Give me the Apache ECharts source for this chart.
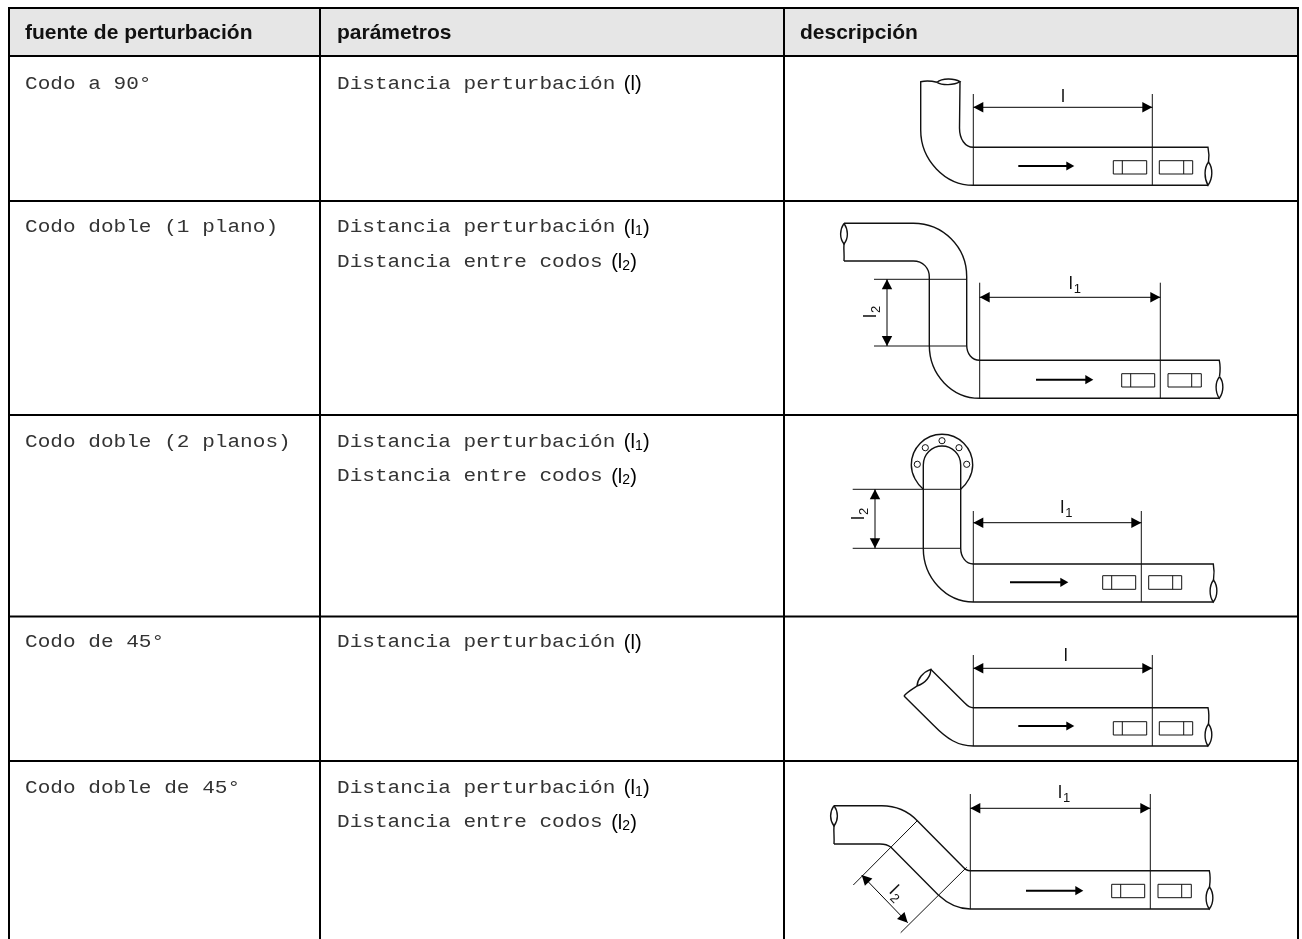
<!DOCTYPE html>
<html>
<head>
<meta charset="utf-8">
<style>
  html, body { margin: 0; padding: 0; background: #fff; }
  #main { width: 1302px; height: 939px; }
</style>
<script src="https://cdn.jsdelivr.net/npm/echarts@6/dist/echarts.min.js"></script>
</head>
<body>
<div id="main"></div>
<script>
// table text
const headerLabels = ['fuente de perturbación', 'parámetros', 'descripción']
const sourceLabels = ['Codo a 90°', 'Codo doble (1 plano)', 'Codo doble (2 planos)', 'Codo de 45°', 'Codo doble de 45°']
const paramLabels = [
  ['Distancia perturbación', 'l', ''],
  ['Distancia perturbación', 'l', '1'],
  ['Distancia entre codos', 'l', '2'],
  ['Distancia perturbación', 'l', '1'],
  ['Distancia entre codos', 'l', '2'],
  ['Distancia perturbación', 'l', ''],
  ['Distancia perturbación', 'l', '1'],
  ['Distancia entre codos', 'l', '2']
]
const sourceBaselines = [89.5, 233, 447.5, 648, 793.5]
const paramBaselines = [89.5, 233, 267.5, 447.5, 482, 648, 793.5, 828]
const headerX = [25, 337, 800]

// table rules, in picture units
const columnRules = [9, 320, 784, 1298]
const rowRules = [8, 56, 201, 415, 616.5, 761]

// pipe outlines of the five sketches
const pipeStrokes = [
  // codo a 90
  'M 920.7 130 L 920.7 81.7 C 926 80.5 932 81 937 82.3',
  'M 937 82.3 C 942 78 954 78 960 81.7 C 954 85.5 942 85.5 937 82.3',
  'M 960 81.7 L 959.5 128 C 959.5 139 965 147.3 973.3 147.3 L 1208 147.3 C 1209 152 1209 158 1208.5 162',
  'M 1208.5 162 C 1204 168 1204 178 1208 185.3 C 1213 178 1213 168 1208.5 162',
  'M 920.7 130 C 920.7 160 945 185.3 973.3 185.3 L 1208 185.3',
  // codo doble, 1 plano
  'M 844 223.3 L 913.3 223.3 C 943 223.3 966.7 247 966.7 276.7 L 966.7 345 C 966.7 354 972 360.3 979.7 360.3 L 1219.3 360.3 C 1220.3 365 1220.3 371 1219.5 376.7',
  'M 1219.5 376.7 C 1215 382 1215 392 1219.3 398.3 C 1224 392 1224 382 1219.5 376.7',
  'M 844 261 L 913.3 261 C 923 261 929.3 268 929.3 277 L 929.3 345 C 929.3 375 952 398.3 979.7 398.3 L 1219.3 398.3',
  'M 844 223.3 C 839.5 230 839.5 238 844 244 C 848.5 238 848.5 230 844 223.3',
  'M 844 244 C 843.5 250 844.5 255 844 261',
  // codo doble, 2 planos
  'M 923.3 489.3 C 917 484 911.3 474.5 911.3 465 C 911.3 448 925 434.3 942 434.3 C 959 434.3 972.7 448 972.7 465 C 972.7 474.5 967 484 960.7 489.3',
  'M 923.3 548.3 L 923.3 465 C 923.3 454.5 931.7 446 942 446 C 952.3 446 960.7 454.5 960.7 465 L 960.7 548.3 C 960.7 557 966 564 973.3 564 L 1213.3 564 C 1214.3 569 1214.3 574 1213.5 580',
  'M 1213.5 580 C 1209 586 1209 596 1213.3 602 C 1218 596 1218 586 1213.5 580',
  'M 923.3 548.3 C 923.3 578 946 602 973.3 602 L 1213.3 602',
  // codo de 45
  'M 930.7 669.3 L 965 703.3 C 967.5 706 970 707.7 973.3 707.7 L 1208 707.7 C 1209 712 1209 718 1208.5 724',
  'M 1208.5 724 C 1204 730 1204 740 1208 746 C 1213 740 1213 730 1208.5 724',
  'M 904 696 L 933.3 725 C 947 739 958 746 973.3 746 L 1208 746',
  'M 904 696 C 908 691 913 689 917 686',
  'M 917 686 C 917.5 679 923 672 930.7 669.3 C 931 676 926 683 917 686',
  // codo doble de 45
  'M 834 805.7 L 881.7 805.7 C 896 805.7 908 811 917.3 820.7 L 963.3 867.3 C 965 869.5 967.5 870.7 970.3 870.7 L 1209.3 870.7 C 1210.3 875 1210.3 881 1209.5 887',
  'M 1209.5 887 C 1205 893 1205 903 1209.3 909 C 1214 903 1214 893 1209.5 887',
  'M 834 844 L 880 844 C 885 844 888 845 891 847.3 L 938.3 895 C 948 904 958 909 970.3 909 L 1209.3 909',
  'M 834 805.7 C 829.5 812 829.5 820 834 826 C 838.5 820 838.5 812 834 805.7',
  'M 834 826 C 833.5 832 834.5 838 834 844'
]

// witness lines and section lines
const thinStrokes = [
  'M 973.3 94 L 973.3 185.3', 'M 1152.3 94 L 1152.3 185.3',
  'M 979.7 282.7 L 979.7 398.3', 'M 1160.3 282.7 L 1160.3 398.3',
  'M 874 279.3 L 966.7 279.3', 'M 874 346 L 966.7 346',
  'M 973.3 511 L 973.3 602', 'M 1141.3 511 L 1141.3 602',
  'M 852.7 489.3 L 960.7 489.3', 'M 852.7 548.3 L 960.7 548.3',
  'M 973.3 655 L 973.3 746', 'M 1152.3 655 L 1152.3 746',
  'M 970.3 794 L 970.3 909', 'M 1150.3 794 L 1150.3 909',
  'M 853.3 885 L 917.3 820.7', 'M 900.7 932.7 L 966.7 867.3'
]

// x1, y1, x2, y2
const dimArrows = [
  [973.3, 107.3, 1152.3, 107.3],
  [979.7, 297.3, 1160.3, 297.3],
  [887, 279.3, 887, 346],
  [973.3, 522.7, 1141.3, 522.7],
  [875, 489.3, 875, 548.3],
  [973.3, 668.3, 1152.3, 668.3],
  [970.3, 808.3, 1150.3, 808.3],
  [861.7, 875, 907.7, 922.7]
]
const flowArrows = [
  [1018.3, 166, 1074.3, 166],
  [1036, 379.7, 1093.3, 379.7],
  [1010, 582.3, 1068.3, 582.3],
  [1018.3, 726, 1074.3, 726],
  [1026, 890.7, 1083.3, 890.7]
]

// x1, y1, x2, y2, inner line x
const sensorBoxes = [
  [1113.3, 160.7, 1146.7, 174, 1122.3], [1159.3, 160.7, 1192.7, 174, 1183.7],
  [1121.7, 373.7, 1154.7, 387, 1130.7], [1168, 373.7, 1201.3, 387, 1191.7],
  [1102.7, 575.7, 1135.7, 589.3, 1111.7], [1148.7, 575.7, 1181.7, 589.3, 1172.7],
  [1113.3, 721.7, 1146.7, 735, 1122.3], [1159.3, 721.7, 1192.7, 735, 1183.7],
  [1111.7, 884.3, 1144.7, 897.7, 1120.7], [1158, 884.3, 1191.3, 897.7, 1181.7]
]

const flangeHoles = [[917.3, 464.3], [925.3, 447.7], [942, 440.7], [959, 447.7], [966.7, 464.3]]

// dimension names and where they sit: x, y, rotation in degrees
const dimLabelSubs = ['', '1', '2', '1', '2', '', '1', '2']
const dimLabelAnchors = [
  [1061, 102, 0], [1068.7, 289.3, 0], [876.7, 318, 90], [1060.3, 513.3, 0],
  [864, 520, 90], [1063.7, 661, 0], [1058, 798.3, 0], [888.3, 892.5, -45]
]

const BLACK = '#000'
const SANS = '"Liberation Sans", Arial, sans-serif'
const MONO = '"Liberation Mono", "Courier New", monospace'
const MONO_PITCH = 12.65
const MONO_SIZE = 18

function pathToPixels(d, api) {
  const tokens = d.split(' ')
  let out = []
  let i = 0
  while (i < tokens.length) {
    if (isNaN(tokens[i])) {
      out.push(tokens[i])
      i++
    } else {
      const p = api.coord([+tokens[i], +tokens[i + 1]])
      out.push(p[0], p[1])
      i += 2
    }
  }
  return out.join(' ')
}

function strokeSeries(strokes, width, color) {
  return {
    type: 'custom', coordinateSystem: 'cartesian2d', silent: true, clip: false,
    data: strokes.map((s, i) => [i]),
    renderItem(params, api) {
      return {
        type: 'path',
        shape: { pathData: pathToPixels(strokes[params.dataIndex], api) },
        style: { fill: null, stroke: color, lineWidth: width }
      }
    }
  }
}

function arrowHead(tip, from, len, half) {
  const dx = tip[0] - from[0]
  const dy = tip[1] - from[1]
  const n = Math.sqrt(dx * dx + dy * dy)
  const ux = dx / n
  const uy = dy / n
  const bx = tip[0] - ux * len
  const by = tip[1] - uy * len
  return {
    type: 'polygon',
    shape: { points: [tip, [bx - uy * half, by + ux * half], [bx + uy * half, by - ux * half]] },
    style: { fill: BLACK }
  }
}

// x, y is the baseline start of the text; the library only places by box so shift by a fifth of the size
function textEl(x, y, text, size, family, weight, fill, rot, scaleX) {
  const t = (rot || 0) * Math.PI / 180
  const drop = size * 0.2
  return {
    type: 'text',
    x: x + drop * Math.sin(t),
    y: y + drop * Math.cos(t),
    rotation: t,
    scaleX: scaleX || 1,
    style: { text: text, font: weight + ' ' + size + 'px ' + family, fill: fill, textAlign: 'left', verticalAlign: 'bottom' }
  }
}

function monoText(api, x, y, text) {
  const p = api.coord([x, y])
  return textEl(p[0], p[1], text, MONO_SIZE, MONO, 'normal', '#333', 0, MONO_PITCH / (MONO_SIZE * 0.6))
}

const option = {
  animation: false,
  backgroundColor: '#fff',
  grid: { left: 0, right: 0, top: 0, bottom: 0 },
  xAxis: { type: 'value', min: 0, max: 1302, show: false },
  yAxis: { type: 'value', min: 0, max: 939, inverse: true, show: false },
  series: [
    // header band
    {
      type: 'custom', coordinateSystem: 'cartesian2d', silent: true, clip: false,
      data: [[0]],
      renderItem(params, api) {
        const a = api.coord([columnRules[0], rowRules[0]])
        const b = api.coord([columnRules[3], rowRules[1]])
        return { type: 'rect', shape: { x: a[0], y: a[1], width: b[0] - a[0], height: b[1] - a[1] }, style: { fill: '#e6e6e6' } }
      }
    },
    strokeSeries(rowRules.map(y => `M ${columnRules[0] - 1} ${y} L ${columnRules[3] + 1} ${y}`), 2, BLACK),
    strokeSeries(columnRules.map(x => `M ${x} ${rowRules[0]} L ${x} 939`), 2, BLACK),
    strokeSeries(pipeStrokes, 1.4, '#111'),
    strokeSeries(thinStrokes, 1, '#111'),
    // dimension arrows
    {
      type: 'custom', coordinateSystem: 'cartesian2d', silent: true, clip: false,
      data: dimArrows.map((s, i) => [i]),
      renderItem(params, api) {
        const d = dimArrows[params.dataIndex]
        const a = api.coord([d[0], d[1]])
        const b = api.coord([d[2], d[3]])
        return {
          type: 'group',
          children: [
            { type: 'line', shape: { x1: a[0], y1: a[1], x2: b[0], y2: b[1] }, style: { stroke: BLACK, lineWidth: 1 } },
            arrowHead(a, b, 10, 5.2),
            arrowHead(b, a, 10, 5.2)
          ]
        }
      }
    },
    // flow direction arrows
    {
      type: 'custom', coordinateSystem: 'cartesian2d', silent: true, clip: false,
      data: flowArrows.map((s, i) => [i]),
      renderItem(params, api) {
        const d = flowArrows[params.dataIndex]
        const a = api.coord([d[0], d[1]])
        const b = api.coord([d[2], d[3]])
        return {
          type: 'group',
          children: [
            { type: 'line', shape: { x1: a[0], y1: a[1], x2: b[0] - 4, y2: b[1] }, style: { stroke: BLACK, lineWidth: 2 } },
            arrowHead(b, a, 8, 4.6)
          ]
        }
      }
    },
    // sensors
    {
      type: 'custom', coordinateSystem: 'cartesian2d', silent: true, clip: false,
      data: sensorBoxes.map((s, i) => [i]),
      renderItem(params, api) {
        const d = sensorBoxes[params.dataIndex]
        const a = api.coord([d[0], d[1]])
        const b = api.coord([d[2], d[3]])
        const m = api.coord([d[4], d[1]])
        const style = { fill: null, stroke: '#111', lineWidth: 1 }
        return {
          type: 'group',
          children: [
            { type: 'rect', shape: { x: a[0], y: a[1], width: b[0] - a[0], height: b[1] - a[1] }, style: style },
            { type: 'line', shape: { x1: m[0], y1: a[1], x2: m[0], y2: b[1] }, style: style }
          ]
        }
      }
    },
    // flange bolt holes
    {
      type: 'custom', coordinateSystem: 'cartesian2d', silent: true, clip: false,
      data: flangeHoles,
      renderItem(params, api) {
        const p = api.coord([api.value(0), api.value(1)])
        return { type: 'circle', shape: { cx: p[0], cy: p[1], r: 3.1 }, style: { fill: '#fff', stroke: '#111', lineWidth: 1 } }
      }
    },
    // header text
    {
      type: 'custom', coordinateSystem: 'cartesian2d', silent: true, clip: false,
      data: headerLabels.map((s, i) => [i]),
      renderItem(params, api) {
        const p = api.coord([headerX[params.dataIndex], 39.5])
        return textEl(p[0], p[1], headerLabels[params.dataIndex], 21, SANS, 'bold', '#111')
      }
    },
    // first column
    {
      type: 'custom', coordinateSystem: 'cartesian2d', silent: true, clip: false,
      data: sourceLabels.map((s, i) => [i]),
      renderItem(params, api) {
        return monoText(api, headerX[0], sourceBaselines[params.dataIndex], sourceLabels[params.dataIndex])
      }
    },
    // second column: name then the symbol in brackets
    {
      type: 'custom', coordinateSystem: 'cartesian2d', silent: true, clip: false,
      data: paramLabels.map((s, i) => [i]),
      renderItem(params, api) {
        const row = paramLabels[params.dataIndex]
        const y = paramBaselines[params.dataIndex]
        const x0 = headerX[1] + row[0].length * MONO_PITCH + 8.5
        const p = api.coord([x0, y + 1])
        const children = [
          monoText(api, headerX[1], y, row[0]),
          textEl(p[0], p[1], '(' + row[1], 20, SANS, 'normal', BLACK)
        ]
        let end = p[0] + 11.1
        if (row[2]) {
          children.push(textEl(end, p[1] + 1.5, row[2], 14, SANS, 'normal', BLACK))
          end += 8
        }
        children.push(textEl(end, p[1], ')', 20, SANS, 'normal', BLACK))
        return { type: 'group', children: children }
      }
    },
    // dimension names on the sketches
    {
      type: 'custom', coordinateSystem: 'cartesian2d', silent: true, clip: false,
      data: dimLabelAnchors.map((s, i) => [i]),
      renderItem(params, api) {
        const a = dimLabelAnchors[params.dataIndex]
        const sub = dimLabelSubs[params.dataIndex]
        const p = api.coord([a[0], a[1]])
        const t = a[2] * Math.PI / 180
        const children = [textEl(p[0], p[1], 'l', 18, SANS, 'normal', '#111', a[2])]
        if (sub) {
          const u = 5
          const v = 4
          children.push(textEl(
            p[0] + u * Math.cos(t) + v * Math.sin(t),
            p[1] - u * Math.sin(t) + v * Math.cos(t),
            sub, 13, SANS, 'normal', '#111', a[2]
          ))
        }
        return { type: 'group', children: children }
      }
    }
  ]
}

const chart = echarts.init(document.getElementById('main'), null, { renderer: 'canvas' })
chart.setOption(option)
</script>
</body>
</html>
